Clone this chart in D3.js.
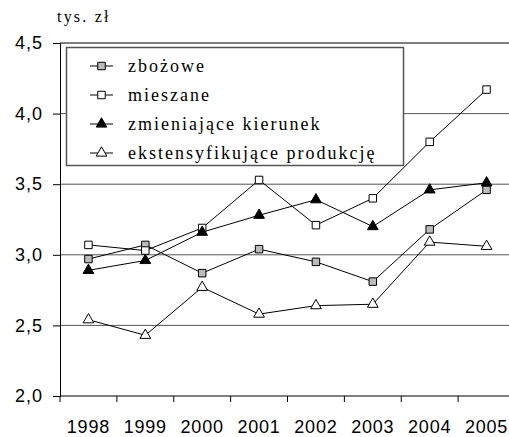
<!DOCTYPE html>
<html>
<head>
<meta charset="utf-8">
<script src="https://cdn.jsdelivr.net/npm/d3@7"></script>
<style>
    body { margin: 0; background: #fff; }
    svg { display: block; }
    .serif { font-family: "Liberation Serif", "Tinos", "Times New Roman", "DejaVu Serif", serif; }
    .sans { font-family: "Liberation Sans", Arial, sans-serif; }
</style>
</head>
<body>
<div id="viz"></div>
<script>
const years = ["1998", "1999", "2000", "2001", "2002", "2003", "2004", "2005"];
const yTicks = [2.0, 2.5, 3.0, 3.5, 4.0, 4.5];

const seriesNames = ["zbożowe", "mieszane", "zmieniające kierunek", "ekstensyfikujące produkcję"];
const zbozowe = [2.97, 3.07, 2.87, 3.04, 2.95, 2.81, 3.18, 3.46];
const mieszane = [3.07, 3.03, 3.19, 3.53, 3.21, 3.40, 3.80, 4.17];
const zmieniajace = [2.89, 2.96, 3.16, 3.28, 3.39, 3.20, 3.46, 3.51];
const ekstensyfikujace = [2.54, 2.43, 2.77, 2.58, 2.64, 2.65, 3.09, 3.06];

document.addEventListener("DOMContentLoaded", () => {
    const width = 509;
    const height = 437;

    const svg = d3.select("#viz").append("svg")
        .attr("width", width)
        .attr("height", height);

    const x = d3.scaleBand()
        .domain(years)
        .range([60, 515]);

    const y = d3.scaleLinear()
        .domain([2, 4.5])
        .range([396, 43]);

    // grid lines
    svg.selectAll("line.grid")
        .data(yTicks.filter(t => t > 2 && t < 4.5))
        .enter()
        .append("line")
        .attr("class", "grid")
        .attr("x1", 60).attr("x2", width)
        .attr("y1", d => y(d)).attr("y2", d => y(d))
        .attr("stroke", "#555")
        .attr("stroke-width", 1);

    // top line
    svg.append("line")
        .attr("x1", 60).attr("x2", width)
        .attr("y1", y(4.5)).attr("y2", y(4.5))
        .attr("stroke", "#000");

    // y axis
    const yAxis = svg.append("g")
        .attr("transform", "translate(60,0)")
        .call(d3.axisLeft(y)
            .tickValues(yTicks)
            .tickSize(7)
            .tickPadding(10)
            .tickFormat(d => d3.format(".1f")(d).replace(".", ",")));
    yAxis.attr("font-family", null).attr("font-size", null);
    yAxis.select(".domain").attr("stroke", "#000");
    yAxis.selectAll(".tick line").attr("stroke", "#000");
    yAxis.selectAll("text")
        .attr("class", "sans")
        .style("font-size", "18px")
        .style("letter-spacing", "1px")
        .attr("fill", "#000");

    // x axis
    svg.append("line")
        .attr("x1", 60).attr("x2", width)
        .attr("y1", 396).attr("y2", 396)
        .attr("stroke", "#000");

    svg.selectAll("line.xtick")
        .data(years)
        .enter()
        .append("line")
        .attr("class", "xtick")
        .attr("x1", d => x(d)).attr("x2", d => x(d))
        .attr("y1", 396).attr("y2", 402)
        .attr("stroke", "#000");

    svg.selectAll("text.xlabel")
        .data(years)
        .enter()
        .append("text")
        .attr("class", "xlabel sans")
        .attr("x", d => x(d) + x.bandwidth() / 2)
        .attr("y", 433)
        .attr("text-anchor", "middle")
        .style("font-size", "18px")
        .style("letter-spacing", "0.8px")
        .text(d => d);

    svg.append("text")
        .attr("class", "serif")
        .attr("x", 57)
        .attr("y", 22)
        .style("font-size", "16px")
        .style("letter-spacing", "2.2px")
        .text("tys. zł");

    const series = [
        { name: seriesNames[0], values: zbozowe, shape: "square", fill: "#bbb" },
        { name: seriesNames[1], values: mieszane, shape: "square", fill: "#fff" },
        { name: seriesNames[2], values: zmieniajace, shape: "triangle", fill: "#000" },
        { name: seriesNames[3], values: ekstensyfikujace, shape: "triangle", fill: "#fff" }
    ];

    const line = d3.line()
        .x((d, i) => x(years[i]) + x.bandwidth() / 2)
        .y(d => y(d));

    const symbolPath = s => s.shape === "square"
        ? d3.symbol().type(d3.symbolSquare).size(56)()
        : d3.symbol().type(d3.symbolTriangle).size(50)();

    series.forEach(s => {
        svg.append("path")
            .datum(s.values)
            .attr("d", line)
            .attr("fill", "none")
            .attr("stroke", "#000")
            .attr("stroke-width", 1);
    });

    series.forEach(s => {
        svg.selectAll(null)
            .data(s.values)
            .enter()
            .append("path")
            .attr("d", symbolPath(s))
            .attr("transform", (d, i) => `translate(${x(years[i]) + x.bandwidth() / 2},${y(d)})`)
            .attr("fill", s.fill)
            .attr("stroke", "#000")
            .attr("stroke-width", 1);
    });

    // legend
    const legend = svg.append("g");
    legend.append("rect")
        .attr("x", 66.5).attr("y", 47.5)
        .attr("width", 337).attr("height", 118)
        .attr("fill", "#fff")
        .attr("stroke", "#555")
        .attr("stroke-width", 1.5);

    const rows = legend.selectAll("g.row")
        .data(series)
        .enter()
        .append("g")
        .attr("class", "row")
        .attr("transform", (d, i) => `translate(0,${66 + i * 29})`);

    rows.append("line")
        .attr("x1", 90).attr("x2", 113)
        .attr("stroke", "#000");
    rows.append("path")
        .attr("d", d => symbolPath(d))
        .attr("transform", "translate(101.5,0)")
        .attr("fill", d => d.fill)
        .attr("stroke", "#000");
    rows.append("text")
        .attr("class", "serif")
        .attr("x", 128)
        .attr("y", 6)
        .style("font-size", "18px")
        .style("letter-spacing", "2px")
        .text(d => d.name);
});
</script>
</body>
</html>
